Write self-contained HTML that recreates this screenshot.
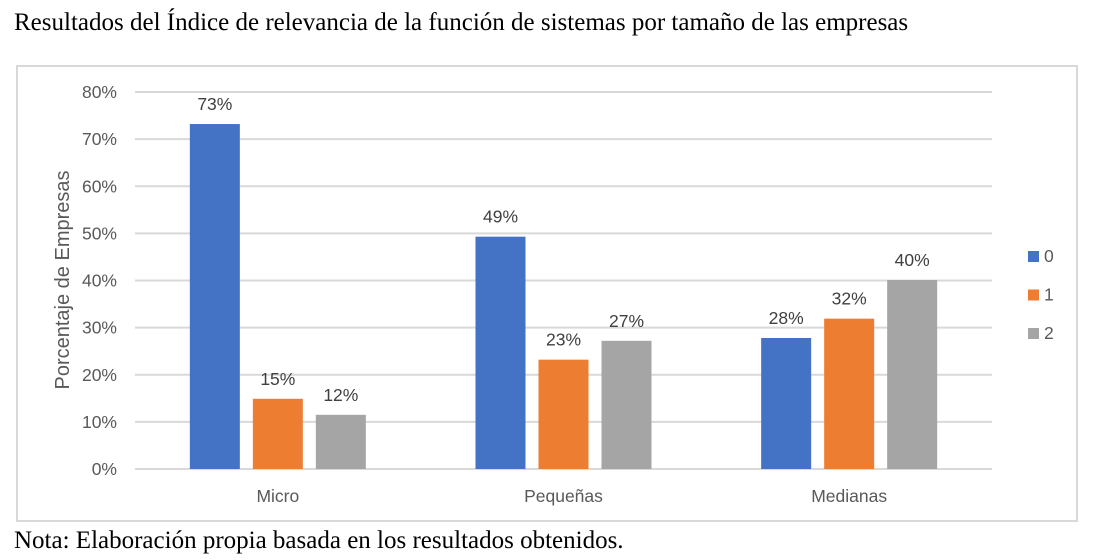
<!DOCTYPE html>
<html><head><meta charset="utf-8"><style>
body{margin:0;background:#fff;width:1095px;height:560px;overflow:hidden;position:relative}
.serif{font-family:"Liberation Serif",serif;font-size:25px;line-height:29px;color:#000;position:absolute;white-space:nowrap}
</style></head><body>
<div class="serif" style="left:14px;top:8px">Resultados del Índice de relevancia de la función de sistemas por tamaño de las empresas</div>
<svg width="1095" height="560" style="position:absolute;left:0;top:0">
<rect x="17" y="66" width="1060" height="455" fill="none" stroke="#d9d9d9" stroke-width="2"/>
<g id="g"></g>
</svg>
<div class="serif" style="left:14px;top:526px">Nota: Elaboración propia basada en los resultados obtenidos.</div>
<script>
const categories=["Micro","Pequeñas","Medianas"];
const series0=[73.2,49.3,27.8];
const series1=[14.9,23.2,31.9];
const series2=[11.5,27.2,40.1];
const seriesNames=["0","1","2"];
const yTicks=[0,10,20,30,40,50,60,70,80];
const colors=["#4472c4","#ed7d31","#a5a5a5"];
const NS="http://www.w3.org/2000/svg";
const g=document.getElementById('g');
const x0=135,x1=992,yBase=469,yTop=92,maxV=80;
const y=v=>yBase-(yBase-yTop)*v/maxV;
const catW=(x1-x0)/categories.length;
const cx=i=>x0+catW*(i+0.5);
function mk(tag,attrs){const e=document.createElementNS(NS,tag);for(const k in attrs)e.setAttribute(k,attrs[k]);g.appendChild(e);return e;}
const F='"Liberation Sans","DejaVu Sans",sans-serif';
const FS=17.5;
yTicks.forEach(t=>{
 const l=mk('line',{x1:x0,x2:x1,y1:y(t),y2:y(t),stroke:'#d9d9d9','stroke-width':2});
 
 
 const tx=mk('text',{x:117,y:y(t)+6,'text-anchor':'end','font-family':F,'font-size':FS,fill:'#595959'});
 tx.textContent=t+'%';
 
 
});
const all=[series0,series1,series2];
const bw=50,gap=13;
categories.forEach((c,i)=>{
 all.forEach((s,j)=>{
  const bx=cx(i)-(3*bw+2*gap)/2+j*(bw+gap);
  const r=mk('rect',{x:bx,y:y(s[i]),width:bw,height:yBase-y(s[i]),fill:colors[j]});
  
  
  const lb=mk('text',{x:bx+bw/2,y:y(s[i])-14,'text-anchor':'middle','font-family':F,'font-size':FS,fill:'#404040'});
  lb.textContent=Math.round(s[i])+'%';
  
  
 });
 const ct=mk('text',{x:cx(i),y:502,'text-anchor':'middle','font-family':F,'font-size':FS,fill:'#595959'});
 ct.textContent=c;
 
 
});
const yt=mk('text',{x:0,y:0,transform:'translate(69,280) rotate(-90)','text-anchor':'middle','font-family':F,'font-size':20,fill:'#595959'});
yt.textContent='Porcentaje de Empresas';


seriesNames.forEach((n,j)=>{
 const ly=251+j*38.5;
 const r=mk('rect',{x:1028,y:ly,width:11,height:11,fill:colors[j]});
 
 
 const t=mk('text',{x:1044,y:ly+11,'font-family':F,'font-size':FS,fill:'#595959'});
 t.textContent=n;
 
 
});
</script>
</body></html>
